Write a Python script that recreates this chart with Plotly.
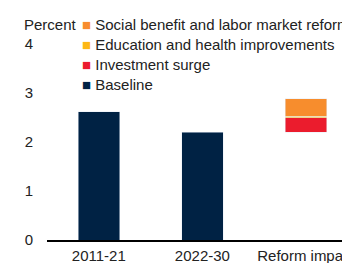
import plotly.graph_objects as go

categories = ["2011-21", "2022-30", "Reform impact"]
baseline = [2.61, 2.19, None]
reform_base = [None, None, 2.19]
investment = [None, None, 0.30]
education = [None, None, 0.03]
social = [None, None, 0.36]

series_names = ["Social benefit and labor market reform",
                "Education and health improvements",
                "Investment surge",
                "Baseline"]
colors = {"Social benefit and labor market reform": "#F78D2D",
          "Education and health improvements": "#FDB714",
          "Investment surge": "#EB1C2D",
          "Baseline": "#002244"}

OFF = 8  # page body margin
W, H = 350 - OFF, 263 - OFF
L, R, T, B = 47 - OFF, 0, 20 - OFF, 23

edge = dict(color="#E5ECF6", width=0.5)
fig = go.Figure()
fig.add_bar(x=categories, y=baseline, marker=dict(color=colors["Baseline"], line=edge), width=0.4)
fig.add_bar(x=categories, y=reform_base, marker=dict(color="rgba(0,0,0,0)", line=dict(width=0)), width=0.4)
fig.add_bar(x=categories, y=investment, marker=dict(color=colors["Investment surge"], line=edge), width=0.4)
fig.add_bar(x=categories, y=education, marker=dict(color=colors["Education and health improvements"], line=edge), width=0.4)
fig.add_bar(x=categories, y=social, marker=dict(color=colors["Social benefit and labor market reform"], line=edge), width=0.4)

def px2paper_x(px):
    return (px - OFF - L) / (W - L - R)

def px2paper_y(py):
    return (H - B - (py - OFF)) / (H - T - B)

annotations = [dict(text="Percent", x=px2paper_x(22), y=px2paper_y(24), xref="paper", yref="paper",
                    xanchor="left", yanchor="middle", showarrow=False,
                    font=dict(size=15, color="#222222"))]
for i, name in enumerate(series_names):
    annotations.append(dict(
        text=f'<span style="color:{colors[name]}">■</span> {name}',
        x=px2paper_x(80), y=px2paper_y(24 + i * 20.3), xref="paper", yref="paper",
        xanchor="left", yanchor="middle", showarrow=False,
        font=dict(size=15, color="#222222")))

fig.update_layout(
    width=W, height=H,
    margin=dict(l=L, r=R, t=T, b=B),
    barmode="stack",
    plot_bgcolor="white", paper_bgcolor="white",
    font=dict(family="Liberation Sans, Arial, sans-serif", size=15, color="#222222"),
    showlegend=False,
    annotations=annotations,
    xaxis=dict(range=[-0.5, 2.425], showgrid=False, showline=True, linecolor="black",
               linewidth=1.5, ticks="", automargin=False, tickfont=dict(size=15),
               ticklabelstandoff=1),
    yaxis=dict(range=[0, 4.48], tickvals=[0, 1, 2, 3, 4], showgrid=False, zeroline=False,
               showline=False, ticks="", automargin=False, tickfont=dict(size=15),
               ticklabelstandoff=13),
)

fig.write_html("out.html")
